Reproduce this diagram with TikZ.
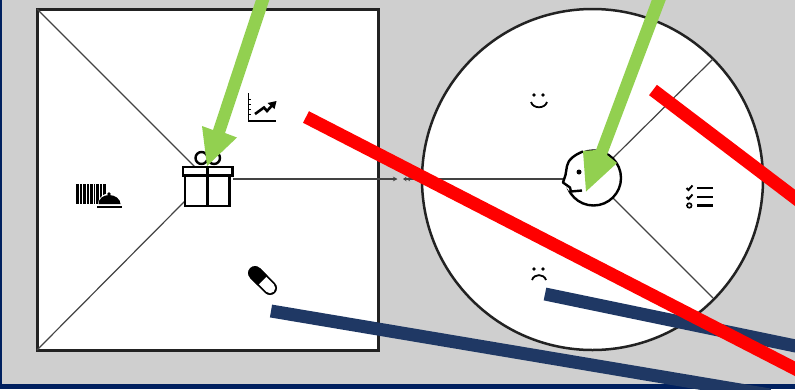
\documentclass[tikz,border=0pt]{standalone}
\usetikzlibrary{arrows.meta}
\definecolor{bgc}{HTML}{CFCFCF}
\definecolor{ink}{HTML}{222222}
\definecolor{band}{HTML}{00205F}
\definecolor{navyl}{HTML}{1F3864}
\definecolor{greenl}{HTML}{92D050}
\tikzset{
  frameln/.style={draw=ink,line width=3pt},
  roundln/.style={draw=ink,line width=2.5pt},
  thinln/.style={draw=ink!85,line width=1.2pt},
  iconln/.style={draw=black,line width=2.4pt},
  redbar/.style={draw=red,line width=13pt},
  navybar/.style={draw=navyl,line width=13pt},
  greenbar/.style={fill=greenl,draw=none},
}
\begin{document}
\begin{tikzpicture}[x=1pt,y=-1pt]
\useasboundingbox (0,0) rectangle (795,389);
\clip (0,0) rectangle (795,389);
\fill[bgc] (0,0) rectangle (795,389);
\fill[band] (0,0) rectangle (1.5,389);
\fill[band] (0,384) rectangle (795,389);

% square and circle
\node[frameln,fill=white,minimum size=341pt,inner sep=0pt,outer sep=0pt] (sq) at (207.5,179.5) {};
\node[roundln,fill=white,circle,minimum size=341pt,inner sep=0pt,outer sep=0pt] (bigc) at (592.5,179.5) {};
\coordinate (sqc1) at (195,167);
\coordinate (sqc2) at (185,201);
\coordinate (gr) at (233,179);
\coordinate (ml) at (397.5,179);
\coordinate (mr) at (403,179);
\coordinate (hl) at (564,179);
\coordinate (r1a) at (611,160);
\coordinate (r1b) at (713,59);
\coordinate (r2a) at (612,197);
\coordinate (r2b) at (713,298);
\draw[thinln] (sq.north west) -- (sqc1);
\draw[thinln] (sq.south west) -- (sqc2);
\draw[thinln,-{Stealth[length=4.5pt,width=4.5pt]}] (gr) -- (ml);
\draw[thinln,-{Stealth[length=3.5pt,width=4.5pt]Stealth[length=3.5pt,width=4.5pt]}] (hl) -- (mr);
\draw[thinln] (r1a) -- (r1b);
\draw[thinln] (r2a) -- (r2b);

% gift
\draw[iconln,fill=white] (201.5,158) circle (6);
\draw[iconln,fill=white] (214,158) circle (6);
\draw[iconln,fill=white] (185,175) rectangle (229.5,206);
\draw[iconln,fill=white] (183,167) rectangle (232.5,175.5);
\draw[iconln] (207.5,167) -- (207.5,206);

% chart
\draw[draw=black,line width=1.6pt] (248.5,93) -- (248.5,121) -- (276,121);
\foreach \yy in {99,104,109,114}
  \draw[draw=black,line width=1pt] (248.5,\yy) -- (251,\yy);
\draw[draw=black,line width=2.6pt] (255,114) -- (264,107.5) -- (267,111) -- (272,105.5);
\fill[black] (276.5,101) -- (267.5,103) -- (274.5,109) -- cycle;

% barcode and cloche
\foreach \xa/\wa in {75.5/3.2,80/1.6,83/3,87/1.6,90/2.8,93.5/1.6,96/3.2,100/1.6,102.5/3.2}
  \fill[black] (\xa,184) rectangle ++(\wa,20);
\fill[white] (98,204) .. controls (98,199) and (102,194) .. (109,193) .. controls (116,194) and (122,199) .. (122,204) -- cycle;
\fill[black] (98.5,204) .. controls (98.5,199) and (103,195) .. (109,195) .. controls (115,195) and (120.5,199) .. (120.5,204) -- cycle;
\fill[black] (109,194) circle (1.8);
\fill[black] (97,205.5) rectangle (122,208);

% pill
\coordinate (pa) at (255,273);
\coordinate (pm) at (262.5,280.5);
\coordinate (pb) at (270,288);
\draw[draw=black,line width=14pt,line cap=round] (pa) -- (pb);
\draw[draw=white,line width=10.5pt,line cap=round] (pm) -- (pb);
\draw[draw=black,line width=14pt] (pa) -- (pm);

% smile
\fill[black] (534,95) circle (1.8) (543,95) circle (1.8);
\draw[draw=black,line width=1.8pt] (531,102) .. controls (533,109) and (545,109) .. (547,102);
% frown
\fill[black] (534,269) circle (1.8) (543,269) circle (1.8);
\draw[draw=black,line width=1.8pt] (532,280) .. controls (534,273.5) and (544,273.5) .. (546,280);

% checklist
\foreach \yy in {188,197,205.5}
  \draw[draw=black,line width=2.6pt] (697,\yy) -- (713,\yy);
\draw[draw=black,line width=1.9pt] (686.5,188) -- (688.5,190) -- (692.5,185.5);
\draw[draw=black,line width=1.9pt] (686.5,197) -- (688.5,199) -- (692.5,194.5);
\draw[draw=black,line width=1.6pt] (689.3,205.5) circle (2.3);

% head
\node[iconln,fill=white,circle,minimum size=55pt,inner sep=0pt,outer sep=0pt] (head) at (593.5,178) {};
\fill[white] (584,150) -- (564,160) -- (564,184) -- (569,191) -- (578,180) -- cycle;
\draw[iconln,line join=round] (583,151.5) .. controls (574,155) and (568,160) .. (567,166) -- (565.5,175) -- (563,182.5) -- (570,187.5) -- (571,191.5) -- (582,190.5);
\fill[black] (579,172) circle (2.5);

% bars
\coordinate (n1a) at (271,311);
\coordinate (n1b) at (770,395);
\coordinate (n2a) at (545,294);
\coordinate (n2b) at (810,349);
\coordinate (r1s) at (306,117);
\coordinate (r1e) at (815,379);
\coordinate (r2s) at (653,90);
\coordinate (r2e) at (815,213);
\draw[navybar] (n1a) -- (n1b);
\draw[navybar] (n2a) -- (n2b);
\draw[redbar] (r1s) -- (r1e);
\draw[redbar] (r2s) -- (r2e);

% green arrows
\fill[greenbar] (256.5,-2) -- (270,-2) -- (225,133) -- (237,137.5) -- (207,166) -- (202,126) -- (213,130) -- cycle;
\fill[greenbar] (652.5,-2) -- (666.5,-2) -- (607,155) -- (617,163) -- (586,191.5) -- (583,151) -- (596,150) -- cycle;
\end{tikzpicture}
\end{document}
